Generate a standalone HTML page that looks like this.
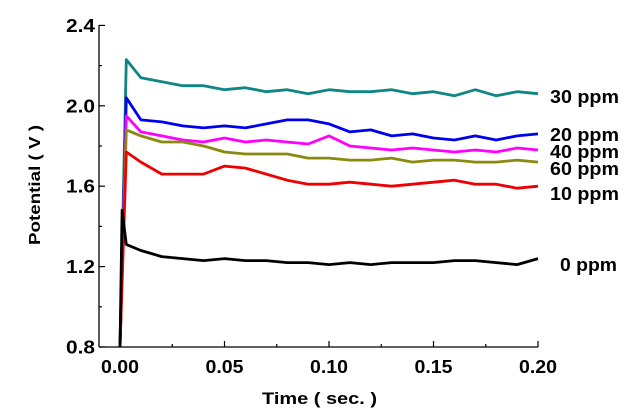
<!DOCTYPE html>
<html><head><meta charset="utf-8"><style>
body{margin:0;background:#fff}
svg{display:block;font-family:"Liberation Sans",Arial,sans-serif;font-weight:bold}
</style></head><body>
<svg id="chart" width="628" height="416">
<g id="axes"></g><g id="series"></g><g id="labels"></g>
</svg>
<script>
const times=[0,0.001,0.003,0.01,0.02,0.03,0.04,0.05,0.06,0.07,0.08,0.09,0.10,0.11,0.12,0.13,0.14,0.15,0.16,0.17,0.18,0.19,0.20];
const ppm30=[0.8,1.28,2.23,2.14,2.12,2.10,2.10,2.08,2.09,2.07,2.08,2.06,2.08,2.07,2.07,2.08,2.06,2.07,2.05,2.08,2.05,2.07,2.06];
const ppm20=[0.8,1.20,2.04,1.93,1.92,1.90,1.89,1.90,1.89,1.91,1.93,1.93,1.91,1.87,1.88,1.85,1.86,1.84,1.83,1.85,1.83,1.85,1.86];
const ppm40=[0.8,1.18,1.95,1.87,1.85,1.83,1.82,1.84,1.82,1.83,1.82,1.81,1.85,1.80,1.79,1.78,1.79,1.78,1.77,1.78,1.77,1.79,1.78];
const ppm60=[0.8,1.16,1.88,1.85,1.82,1.82,1.80,1.77,1.76,1.76,1.76,1.74,1.74,1.73,1.73,1.74,1.72,1.73,1.73,1.72,1.72,1.73,1.72];
const ppm10=[0.8,1.12,1.77,1.72,1.66,1.66,1.66,1.70,1.69,1.66,1.63,1.61,1.61,1.62,1.61,1.60,1.61,1.62,1.63,1.61,1.61,1.59,1.60];
const ppm0=[0.8,1.48,1.31,1.28,1.25,1.24,1.23,1.24,1.23,1.23,1.22,1.22,1.21,1.22,1.21,1.22,1.22,1.22,1.23,1.23,1.22,1.21,1.24];
const seriesNames=["30 ppm","20 ppm","40 ppm","60 ppm","10 ppm","0 ppm"];
const seriesData=[ppm30,ppm20,ppm40,ppm60,ppm10,ppm0];
const xTicks=[0,0.05,0.10,0.15,0.20];
const xTickLabels=["0.00","0.05","0.10","0.15","0.20"];
const yTicks=[0.8,1.2,1.6,2.0,2.4];
const yTickLabels=["0.8","1.2","1.6","2.0","2.4"];

const colors=["#108585","#0000ee","#ff00ff","#8a8a10","#ee0000","#000000"];
const labelPos=[[550,103],[550,141],[550,158],[550,175],[550,200],[560,271]];
const NS="http://www.w3.org/2000/svg";
const X=t=>120+t*2090;
const Y=v=>347-(v-0.8)*201;
function mk(tag,at,parent){const e=document.createElementNS(NS,tag);for(const k in at)e.setAttribute(k,at[k]);parent.appendChild(e);return e;}
const axes=document.getElementById('axes'),ser=document.getElementById('series'),lab=document.getElementById('labels');
let e=mk('line',{x1:99,y1:347,x2:538,y2:347,stroke:'#000','stroke-width':1.3},axes);


e=mk('line',{x1:99,y1:25,x2:99,y2:347,stroke:'#000','stroke-width':1.3},axes);


for(let i=0;i<=8;i++){const t=i*0.025;const len=i%2==0?6:3;
 e=mk('line',{x1:X(t),y1:347,x2:X(t),y2:347-len,stroke:'#000','stroke-width':1.2},axes);
 
 }
for(let i=0;i<=8;i++){const v=0.8+i*0.2;const len=i%2==0?6:3;
 e=mk('line',{x1:99,y1:Y(v),x2:99+len,y2:Y(v),stroke:'#000','stroke-width':1.2},axes);
 
 }
xTicks.forEach((t,i)=>{e=mk('text',{x:X(t)-19,y:373,'font-size':18,textLength:38,lengthAdjust:'spacingAndGlyphs'},axes);e.textContent=xTickLabels[i];
 
 });
yTicks.forEach((v,i)=>{e=mk('text',{x:66,y:Y(v)+6.5,'font-size':18,textLength:29,lengthAdjust:'spacingAndGlyphs'},axes);e.textContent=yTickLabels[i];
 
 });
e=mk('text',{x:262,y:404,'font-size':17,textLength:115,lengthAdjust:'spacingAndGlyphs'},axes);e.textContent='Time ( sec. )';


e=mk('text',{x:-60,y:0,'font-size':16,textLength:120,lengthAdjust:'spacingAndGlyphs',transform:'translate(40,185) rotate(-90)'},axes);e.textContent='Potential ( V )';


seriesData.forEach((d,s)=>{
 const pts=d.map((v,i)=>X(times[i]).toFixed(1)+','+Y(v).toFixed(1)).join(' ');
 e=mk('polyline',{points:pts,fill:'none',stroke:colors[s],'stroke-width':2.8,'stroke-linejoin':'round'},ser);
 
 
 e=mk('text',{x:labelPos[s][0],y:labelPos[s][1],'font-size':18,textLength:s==5?57:69,lengthAdjust:'spacingAndGlyphs'},lab);e.textContent=seriesNames[s];
 
 
});
</script>
</body></html>
